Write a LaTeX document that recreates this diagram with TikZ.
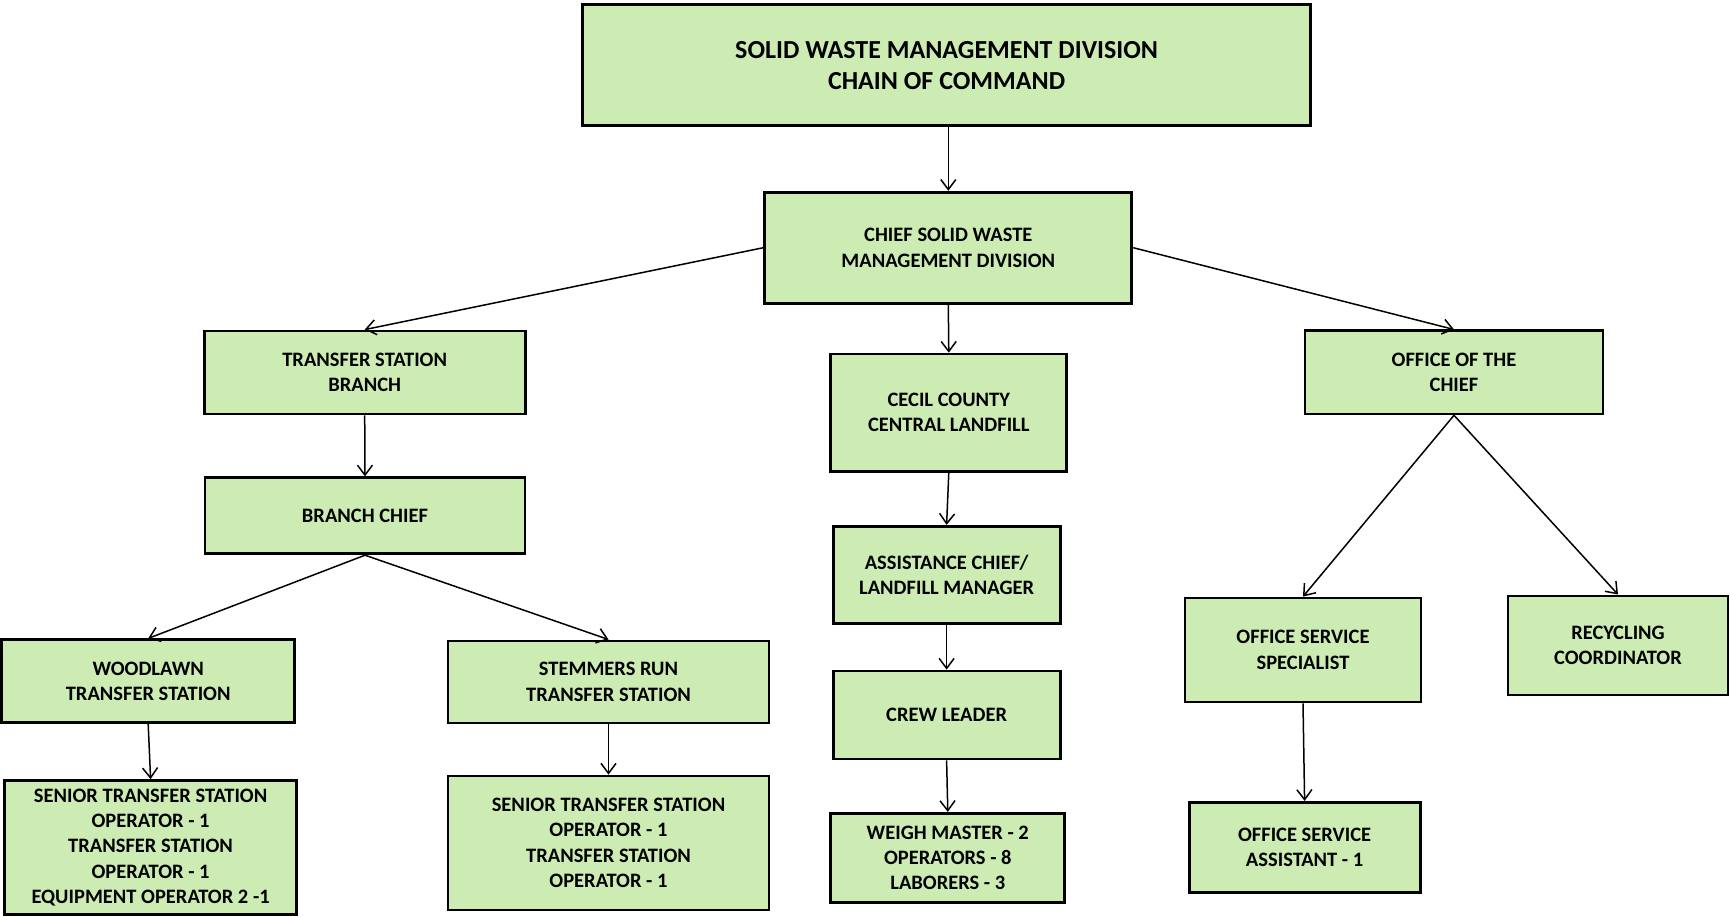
\documentclass[tikz,border=0pt]{standalone}
\usepackage{fontspec}
\setmainfont{Carlito}
\usetikzlibrary{arrows.meta}
\definecolor{boxgreen}{RGB}{204,236,180}
\begin{document}
\begin{tikzpicture}[x=1pt,y=-1pt,
  box/.style={draw=black, line width=2.8pt, fill=boxgreen, align=center, inner sep=0pt,
    font=\fontsize{20.5}{25.4}\selectfont\bfseries},
  titlebox/.style={box, font=\fontsize{26}{31}\selectfont\bfseries},
  conn/.style={draw=black, line width=1.5pt, -{Straight Barb[length=10pt,width=15pt,line width=1.5pt]}}]
\useasboundingbox (0,0) rectangle (1730,917);

\node[titlebox, minimum width=728pt, minimum height=121pt] (title) at (946.6,65.1)
  {SOLID WASTE MANAGEMENT DIVISION\\CHAIN OF COMMAND};
\node[box, minimum width=367pt, minimum height=111pt] (chief) at (948.3,247.7)
  {CHIEF SOLID WASTE\\MANAGEMENT DIVISION};
\node[box, minimum width=321pt, minimum height=83pt] (tsb) at (364.7,372.5)
  {TRANSFER STATION\\BRANCH};
\node[box, minimum width=320pt, minimum height=76pt] (bc) at (365,515.8)
  {BRANCH CHIEF};
\node[box, minimum width=293pt, minimum height=83pt] (wl) at (148.2,681.3)
  {WOODLAWN\\TRANSFER STATION};
\node[box, minimum width=321pt, minimum height=82pt] (sr) at (608.5,681.9)
  {STEMMERS RUN\\TRANSFER STATION};
\node[box, minimum width=292pt, minimum height=134pt] (wls) at (150.6,847.5)
  {SENIOR TRANSFER STATION\\OPERATOR - 1\\TRANSFER STATION\\OPERATOR - 1\\EQUIPMENT OPERATOR 2 -1};
\node[box, minimum width=321pt, minimum height=134pt] (srs) at (608.5,843)
  {SENIOR TRANSFER STATION\\OPERATOR - 1\\TRANSFER STATION\\OPERATOR - 1};
\node[box, minimum width=236pt, minimum height=117pt] (cecil) at (948.8,412.6)
  {CECIL COUNTY\\CENTRAL LANDFILL};
\node[box, minimum width=227pt, minimum height=97pt] (asst) at (946.6,574.8)
  {ASSISTANCE CHIEF/\\LANDFILL MANAGER};
\node[box, minimum width=227pt, minimum height=88pt] (crew) at (946.6,715)
  {CREW LEADER};
\node[box, minimum width=234pt, minimum height=89pt] (weigh) at (947.8,857.8)
  {WEIGH MASTER - 2\\OPERATORS - 8\\LABORERS - 3};
\node[box, minimum width=298pt, minimum height=83pt] (ofc) at (1454,372.4)
  {OFFICE OF THE\\CHIEF};
\node[box, minimum width=236pt, minimum height=104pt] (oss) at (1303,650)
  {OFFICE SERVICE\\SPECIALIST};
\node[box, minimum width=220pt, minimum height=99pt] (rec) at (1618,645.4)
  {RECYCLING\\COORDINATOR};
\node[box, minimum width=231pt, minimum height=90pt] (osa) at (1304.6,847.3)
  {OFFICE SERVICE\\ASSISTANT - 1};

\draw[conn] (chief.north |- title.south) -- (chief.north);
\draw[conn] (chief.west) -- (tsb.north);
\draw[conn] (chief.east) -- (ofc.north);
\draw[conn] (chief.south) -- (cecil.north);
\draw[conn] (tsb.south) -- (bc.north);
\draw[conn] (bc.south) -- (wl.north);
\draw[conn] (bc.south) -- (sr.north);
\draw[conn] (wl.south) -- (wls.north);
\draw[conn] (sr.south) -- (srs.north);
\draw[conn] (cecil.south) -- (asst.north);
\draw[conn] (asst.south) -- (crew.north);
\draw[conn] (crew.south) -- (weigh.north);
\draw[conn] (ofc.south) -- (oss.north);
\draw[conn] (ofc.south) -- (rec.north);
\draw[conn] (oss.south) -- (osa.north);
\end{tikzpicture}
\end{document}
